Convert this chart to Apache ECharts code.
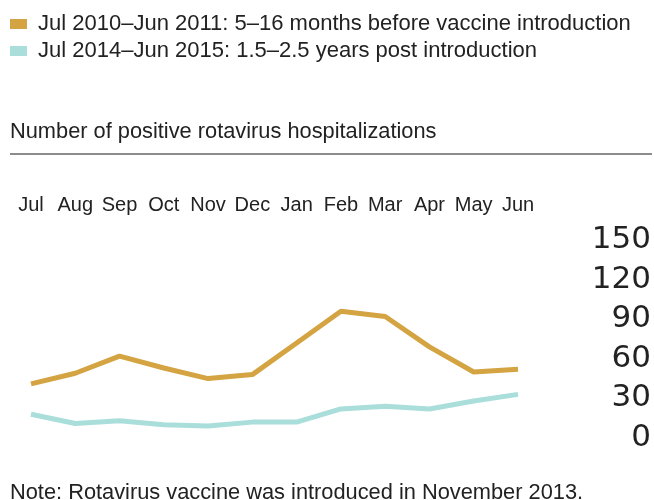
<!DOCTYPE html>
<html>
<head>
<meta charset="utf-8">
<script src="https://cdn.jsdelivr.net/npm/echarts@6/dist/echarts.min.js"></script>
<style>
html,body{margin:0;padding:0;background:#fff;}
#chart{width:654px;height:500px;}
</style>
</head>
<body>
<div id="chart"></div>
<script>
const months = ['Jul','Aug','Sep','Oct','Nov','Dec','Jan','Feb','Mar','Apr','May','Jun'];
const before = [38,46,59,50,42,45,69,93,89,66,47,49];
const after = [15,8,10,7,6,9,9,19,21,19,25,30];
const yTicks = [0,30,60,90,120,150];
const seriesNames = [
  'Jul 2010\u2013Jun 2011: 5\u201316 months before vaccine introduction',
  'Jul 2014\u2013Jun 2015: 1.5\u20132.5 years post introduction'
];
const colors = ['#D4A442', '#A9DEDB'];
const FONT = 'Liberation Sans';

const chart = echarts.init(document.getElementById('chart'), null, {renderer:'canvas'});
chart.setOption({
  animation:false,
  textStyle:{fontFamily:FONT},
  color:colors,
  legend:{
    orient:'vertical', left:10, top:13, itemGap:5, padding:0,
    itemWidth:17, itemHeight:10, icon:'rect', itemTextGap:5,
    textStyle:{fontSize:22, color:'#222', fontFamily:FONT, padding:[0,0,0,6]},
    data:seriesNames
  },
  title:{
    text:'Number of positive rotavirus hospitalizations',
    left:10, top:121, padding:0,
    textStyle:{fontSize:21.8, fontWeight:'normal', color:'#222', fontFamily:FONT}
  },
  graphic:[
    {type:'line', shape:{x1:10,y1:154,x2:652,y2:154}, style:{stroke:'#8c8c8c', lineWidth:2}},
    {type:'text', left:10, top:482, style:{text:'Note: Rotavirus vaccine was introduced in November 2013.', fontSize:21.8, fill:'#222', fontFamily:FONT}}
  ],
  grid:{left:31, right:136, top:236, bottom:66},
  xAxis:{
    type:'category', position:'top', boundaryGap:false, data:months,
    axisLine:{show:false}, axisTick:{show:false}, splitLine:{show:false},
    axisLabel:{fontSize:20, color:'#222', margin:21, interval:0, fontFamily:FONT}
  },
  yAxis:{
    type:'value', position:'right', min:0, max:150, interval:30,
    axisLine:{show:false}, axisTick:{show:false}, splitLine:{show:false},
    axisLabel:{color:'#222', margin:133, align:'right',
      formatter:function(v){return yTicks.indexOf(v)>=0 ? '{n|' + v + '}' : '';},
      rich:{n:{fontSize:31, color:'#222', fontFamily:'DejaVu Sans', padding:[8,0,0,0], align:'right'}}}
  },
  series:[
    {name:seriesNames[0], type:'line', data:before, symbol:'none', lineStyle:{width:5, color:colors[0]}, itemStyle:{color:colors[0]}},
    {name:seriesNames[1], type:'line', data:after, symbol:'none', lineStyle:{width:5, color:colors[1]}, itemStyle:{color:colors[1]}}
  ]
});
</script>
</body>
</html>
